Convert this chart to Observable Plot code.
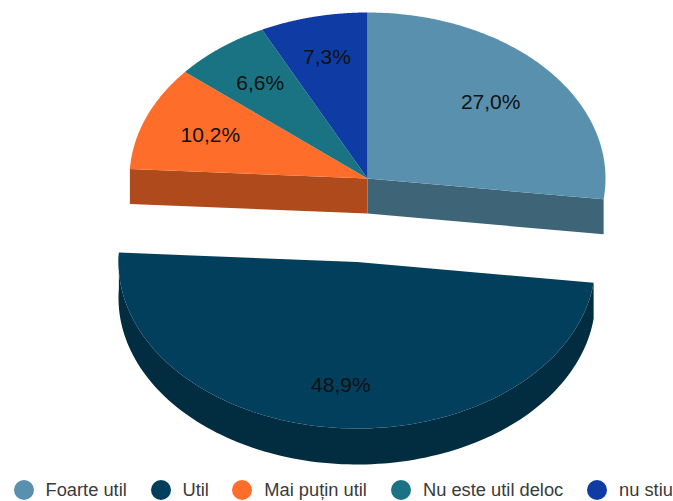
<!DOCTYPE html>
<html>
<head>
<meta charset="utf-8">
<script src="https://cdn.jsdelivr.net/npm/d3@7"></script>
<script src="https://cdn.jsdelivr.net/npm/@observablehq/plot@0.6"></script>
<style>
html,body{margin:0;padding:0;background:#fff;overflow:hidden}
#legend{position:relative;height:22px;font:18.3px "Liberation Sans",Arial,sans-serif;color:#3a3a3a}
#legend .item{position:absolute;top:0;display:flex;align-items:center;height:22px;white-space:nowrap}
#legend .dot{width:20px;height:20px;border-radius:50%;margin-right:12px;flex:none}
svg{display:block}
</style>
</head>
<body>
<div id="chart"></div>
<div id="legend"></div>
<script>
const categories = ["Foarte util", "Util", "Mai puțin util", "Nu este util deloc", "nu stiu"];
const values = [27.0, 48.9, 10.2, 6.6, 7.3];
const labels = ["27,0%", "48,9%", "10,2%", "6,6%", "7,3%"];
const colors = ["#5990AE", "#023F5C", "#FF6D2A", "#1A7382", "#0F3CA4"];
const sideColors = ["#3E6478", "#022C40", "#AE4A1C", "#12525D", "#0A2A73"];
const labelRadii = [0.69, 0.745, 0.71, 0.73, 0.75];
const legendLefts = [13.5, 150.5, 232.3, 391, 587];

const W = 673, H = 479, depth = 35;
const pieTop = {cx: 367, cy: 178, rx: 238, ry: 166};
const pieOut = {cx: 356.5, cy: 261.5, rx: 238.5, ry: 166.5};
const ends = Array.from(d3.cumsum(values));
const total = ends[ends.length - 1];
const ang = v => v / total * 2 * Math.PI;
const geom = i => (i === 1 ? pieOut : pieTop);
const at = (g, a, r = 1, dy = 0) => ({x: g.cx + r * g.rx * Math.sin(a), y: g.cy - r * g.ry * Math.cos(a) + dy});
const arc = (g, a0, a1, dy = 0) => d3.range(0, 121).map(k => at(g, a0 + (a1 - a0) * k / 120, 1, dy));

const sides = [], tops = [], texts = [];
values.forEach((v, i) => {
  const a0 = ang(ends[i] - v), a1 = ang(ends[i]), g = geom(i);
  const key = categories[i];
  tops.push(...[{x: g.cx, y: g.cy}, ...arc(g, a0, a1)].map(p => ({...p, key, fill: colors[i]})));
  texts.push({...at(g, (a0 + a1) / 2, labelRadii[i]), label: labels[i]});
  if (i === 1) {
    sides.push(...[...arc(g, a0, a1), ...arc(g, a0, a1, depth + 1).reverse()].map(p => ({...p, key, fill: sideColors[i]})));
  }
  if (i === 0 || i === 2) {
    const c = {x: g.cx, y: g.cy}, p = at(g, i === 0 ? a1 : a0, 1);
    sides.push(...[c, p, {x: p.x, y: p.y + depth}, {x: c.x, y: c.y + depth}].map(q => ({...q, key, fill: sideColors[i]})));
  }
});

const chart = Plot.plot({
  width: W, height: H, margin: 0,
  x: {type: "linear", domain: [0, W], range: [0, W], axis: null},
  y: {type: "linear", domain: [0, H], range: [0, H], axis: null},
  marks: [
    Plot.line(sides, {x: "x", y: "y", z: "key", fill: "fill", stroke: "none", curve: "linear"}),
    Plot.line(tops, {x: "x", y: "y", z: "key", fill: "fill", stroke: "none", curve: "linear"}),
    Plot.text(texts, {x: "x", y: "y", text: "label", fontSize: 21, fontFamily: "Liberation Sans", fill: "#111", textAnchor: "middle"})
  ]
});
document.getElementById("chart").append(chart);

const legend = d3.select("#legend");
categories.forEach((c, i) => {
  const it = legend.append("div").attr("class", "item").style("left", legendLefts[i] + "px");
  it.append("span").attr("class", "dot").style("background", colors[i]);
  it.append("span").text(c);
});
</script>
</body>
</html>
